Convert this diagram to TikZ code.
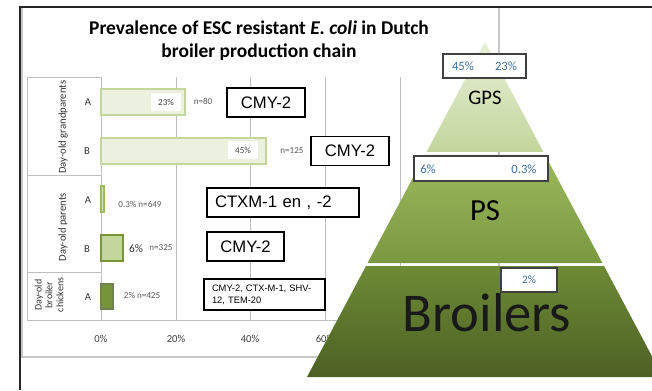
\documentclass[tikz,border=0pt]{standalone}
\usepackage{fontspec}
\setmainfont{Carlito}
\newfontfamily\arialFont{Liberation Sans}
\usetikzlibrary{positioning,calc}

\definecolor{gridGray}{HTML}{BFBFBF}
\definecolor{frameGray}{HTML}{C8C8C8}
\definecolor{pctBlue}{HTML}{3B6E9E}
\definecolor{barPale}{HTML}{EBF1DE}
\definecolor{barLight}{HTML}{D7E4BD}
\definecolor{barMid}{HTML}{C3D69B}
\definecolor{barDark}{HTML}{77933C}
\definecolor{oliveLine}{HTML}{9BBB59}
\definecolor{oliveDark}{HTML}{4F6228}
\definecolor{gpsTop}{HTML}{E8EFD9}
\definecolor{gpsBot}{HTML}{C2D69B}
\definecolor{psTop}{HTML}{9CB95F}
\definecolor{psBot}{HTML}{7A9840}
\definecolor{brTop}{HTML}{6E8B36}
\definecolor{brBot}{HTML}{4C6024}

\def\pyramidCoords{\coordinate (apex) at (485,42);\coordinate (bl) at (307,377);\coordinate (br) at (663,377);
  \coordinate (l1) at ($(apex)!0.328!(bl)$);\coordinate (r1) at ($(apex)!0.328!(br)$);
  \coordinate (l2) at ($(apex)!0.337!(bl)$);\coordinate (r2) at ($(apex)!0.337!(br)$);
  \coordinate (l3) at ($(apex)!0.660!(bl)$);\coordinate (r3) at ($(apex)!0.660!(br)$);
  \coordinate (l4) at ($(apex)!0.669!(bl)$);\coordinate (r4) at ($(apex)!0.669!(br)$);}

\begin{document}
\begin{tikzpicture}[x=0.75pt, y=-0.75pt,
  gridLine/.style={draw=gridGray, line width=0.6pt},
  catLabel/.style={font=\fontsize{8}{9}\selectfont, text=black!80, rotate=90, align=center, inner sep=0pt},
  rowLetter/.style={font=\fontsize{8}{9}\selectfont, text=black!80, inner sep=0pt},
  inBarLabel/.style={fill=white, font=\fontsize{6.8}{7}\selectfont, text=black!75, inner sep=0pt, minimum width=23pt, minimum height=14pt},
  nLabel/.style={font=\fontsize{6.8}{7}\selectfont, text=black!65, inner sep=0pt},
  axisLabel/.style={font=\fontsize{8}{9}\selectfont, text=black!75, inner sep=0pt},
  geneBox/.style={draw=black, line width=1.1pt, fill=white, inner sep=0pt, font=\arialFont\fontsize{12.5}{14}\selectfont, minimum height=21.5pt},
  pctBox/.style={draw=black!75, line width=0.8pt, fill=white, inner sep=0pt, minimum height=18pt},
  pctText/.style={font=\fontsize{9.5}{10}\selectfont, text=pctBlue, inner sep=0pt}]
		\useasboundingbox (0,0) rectangle (652,390);
		\clip (0,0) rectangle (652,390);
		\fill[white] (0,0) rectangle (652,390);
		
		% chart frame
		\draw[draw=frameGray, line width=0.8pt] (22,7) rectangle (499,357);
		
		\node[font=\bfseries\fontsize{14.6}{17.5}\selectfont, align=center, inner sep=0pt] (title) at (259,41)
			{Prevalence of ESC resistant \textit{E. coli} in Dutch\\broiler production chain};
		
		% grid
		\foreach \gx in {176,250,325,400}
			\draw[gridLine] (\gx,77) -- (\gx,320);
		\draw[gridLine] (27,77) -- (101,77);
		\draw[gridLine] (27,175) -- (101,175);
		\draw[gridLine] (27,272) -- (101,272);
		\draw[gridLine] (27,320) -- (499,320);
		\draw[gridLine] (27,77) -- (27,320);
		\draw[gridLine] (101,77) -- (101,320);
		
		\node[catLabel] (catGP) at (63,127) {Day-old grandparents};
		\node[catLabel] (catP) at (63,227) {Day-old parents};
		\node[catLabel, font=\fontsize{7.5}{8.2}\selectfont] (catCK) at (49,295) {Day-old\\broiler\\chickens};
		
		\node[rowLetter] (gpA) at (88,102) {A};
		\node[rowLetter] (gpB) at (87,151) {B};
		\node[rowLetter] (pA) at (88,200) {A};
		\node[rowLetter] (pB) at (87,249) {B};
		\node[rowLetter] (ckA) at (88,297) {A};
		
		% bars
		\draw[draw=barMid, fill=barPale, line width=0.9pt] (101,89) rectangle (185,115);
		\draw[draw=barMid, fill=barPale, line width=0.9pt] (101,138) rectangle (266,164);
		\draw[draw=oliveLine, fill=barLight, line width=0.9pt] (101,186) rectangle (104,212);
		\draw[draw=barDark, fill=barMid, line width=0.9pt] (101,235) rectangle (123,261);
		\draw[draw=oliveDark!80, fill=barDark, line width=0.9pt] (101,284) rectangle (113,309);
		
		\node[inBarLabel] (gpAval) at (166,102) {23\%};
		\node[inBarLabel] (gpBval) at (243,150) {45\%};
		\node[nLabel] (gpAn) at (203,101) {n=80};
		\node[nLabel] (gpBn) at (292,151) {n=125};
		\node[nLabel] (pAval) at (140,204) {0.3\% n=649};
		\node[font=\fontsize{8.5}{9}\selectfont, text=black!80, inner sep=0pt] (pBval) at (136,249) {6\%};
		\node[nLabel] (pBn) at (161,248) {n=325};
		\node[nLabel] (ckAval) at (142,295) {2\% n=425};
		
		\node[axisLabel] (ax0) at (101,339) {0\%};
		\node[axisLabel] (ax20) at (176,339) {20\%};
		\node[axisLabel] (ax40) at (250,339) {40\%};
		\node[axisLabel] (ax60) at (325,339) {60\%};
		
		% genes
		\node[geneBox, minimum width=58.5pt] (geneGPA) at (266,102.5) {CMY-2};
		\node[geneBox, minimum width=58.5pt] (geneGPB) at (350,151) {CMY-2};
		\node[geneBox, text width=102pt, inner xsep=6pt, align=left] (genePA) at (283,202.5) {CTXM-1 en , -2};
		\node[geneBox, minimum width=57.75pt] (genePB) at (245.5,246.5) {CMY-2};
		\node[geneBox, font=\arialFont\fontsize{7}{9}\selectfont, text width=78.75pt, inner xsep=6pt, minimum height=23.25pt, align=left] (geneCK) at (264.5,294.5)
			{CMY-2, CTX-M-1, SHV-\\12, TEM-20};
		
		% pyramid
		\pyramidCoords
		\shade[top color=gpsTop, bottom color=gpsBot] (apex) -- (r1) -- (l1) -- cycle;
		\shade[top color=psTop, bottom color=psBot] (l2) -- (r2) -- (r3) -- (l3) -- cycle;
		\shade[top color=brTop, bottom color=brBot] (l4) -- (r4) -- (br) -- (bl) -- cycle;
		
		\node[font=\fontsize{15.5}{17}\selectfont, inner sep=0pt] (gpsName) at (485,98) {GPS};
		\node[font=\fontsize{23}{25}\selectfont, inner sep=0pt] (psName) at (485,211) {PS};
		\node[font=\fontsize{41}{44}\selectfont, inner sep=0pt, text=black!90] (brName) at (487,313) {Broilers};
		
		\node[pctBox, minimum width=62.25pt] (gpsBox) at (484.5,66) {};
		\node[pctText] (gps45) at (463,66) {45\%};
		\node[pctText] (gps23) at (506,66) {23\%};
		\node[pctBox, minimum width=100.5pt, minimum height=18.75pt] (psBox) at (481,168.5) {};
		\node[pctText] (ps6) at (428,169) {6\%};
		\node[pctText] (ps03) at (524,169) {0.3\%};
		\node[pctBox, minimum width=42pt] (brBox) at (529,280) {};
		\node[pctText, font=\fontsize{8.5}{9}\selectfont] (br2) at (529,280) {2\%};
		
		% outer frame
		\draw[draw=black!85, line width=1.5pt] (20,390) -- (20,7) -- (652,7);
\end{tikzpicture}
\end{document}
